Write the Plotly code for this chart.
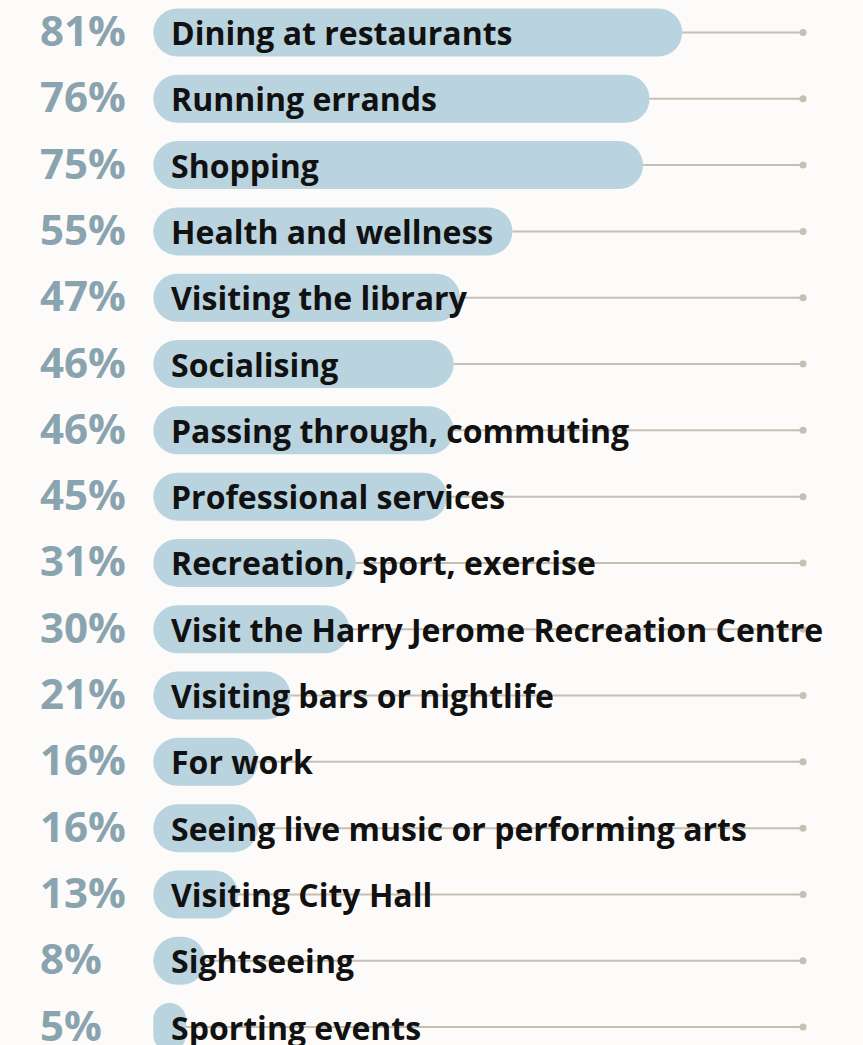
import plotly.graph_objects as go

# Share of respondents per reason for visiting
activities = [
    "Dining at restaurants",
    "Running errands",
    "Shopping",
    "Health and wellness",
    "Visiting the library",
    "Socialising",
    "Passing through, commuting",
    "Professional services",
    "Recreation, sport, exercise",
    "Visit the Harry Jerome Recreation Centre",
    "Visiting bars or nightlife",
    "For work",
    "Seeing live music or performing arts",
    "Visiting City Hall",
    "Sightseeing",
    "Sporting events",
]
shares = [81, 76, 75, 55, 47, 46, 46, 45, 31, 30, 21, 16, 16, 13, 8, 5]
pct_labels = [f"{v}%" for v in shares]

TRACK_END = 99.5

BG = "#fcfbf9"
BAR = "#b9d3df"
PCT = "#89a4af"
TRACK = "#c6bfb4"
FONT = "Open Sans"

rows = list(range(len(activities)))

fig = go.Figure()

# Guide tracks from each bar end to the common end point
tx, ty = [], []
for r, v in zip(rows, shares):
    tx += [v, TRACK_END, None]
    ty += [r, r, None]
fig.add_trace(go.Scatter(
    x=tx, y=ty, mode="lines",
    line=dict(color=TRACK, width=2),
    hoverinfo="skip", showlegend=False,
))
fig.add_trace(go.Scatter(
    x=[TRACK_END] * len(rows), y=rows, mode="markers",
    marker=dict(color=TRACK, size=7),
    hoverinfo="skip", showlegend=False,
))

# Pill bars (explicit base so both ends get rounded)
fig.add_trace(go.Bar(
    x=shares, y=rows, base=[0] * len(rows), orientation="h",
    width=0.724, marker=dict(color=BAR, cornerradius=24, line=dict(width=0)),
    hoverinfo="skip", showlegend=False,
))

annotations = []
for r, name, lab in zip(rows, activities, pct_labels):
    annotations.append(dict(
        x=38 / 863, xref="paper", y=r, yref="y",
        text=lab, showarrow=False, xanchor="left", yanchor="middle",
        yshift=3,
        font=dict(family=FONT, size=42, color=PCT, weight="bold"),
    ))
    annotations.append(dict(
        x=0, xref="x", y=r, yref="y", xshift=16,
        text=name, showarrow=False, xanchor="left", yanchor="middle",
        yshift=0,
        font=dict(family=FONT, size=32, color="#111111", weight="bold"),
    ))

fig.update_layout(
    width=863, height=1045,
    margin=dict(l=0, r=0, t=0, b=0),
    paper_bgcolor=BG, plot_bgcolor=BG,
    barmode="overlay",
    annotations=annotations,
    xaxis=dict(range=[-23.48, 108.68], visible=False, fixedrange=True),
    yaxis=dict(range=[15.27, -0.49], visible=False, fixedrange=True),
)

fig.write_html("out.html", config={"displayModeBar": False})
